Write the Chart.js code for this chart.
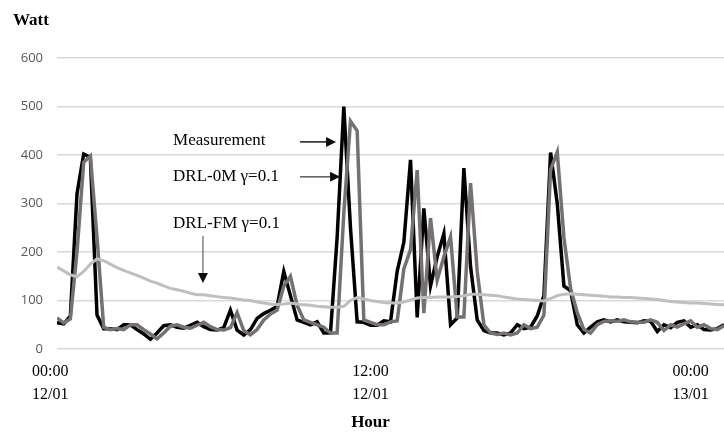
<!DOCTYPE html>
<html>
<head>
<meta charset="utf-8">
<script src="https://cdn.jsdelivr.net/npm/chart.js@4.4.1/dist/chart.umd.min.js"></script>
<style>
html,body{margin:0;padding:0;background:#ffffff;}
#wrap{width:724px;height:432px;}
</style>
</head>
<body>
<div id="wrap"><canvas id="c" width="724" height="432"></canvas></div>
<script>
// ---- data (15-minute readings, first reading at 00:15) ----
const START_HOUR = 0.25;
const STEP_HOURS = 0.25;

const measurement = [
  54, 52, 68, 320, 402, 395, 70, 42, 42, 40,
  50, 50, 40, 31, 20, 33, 48, 50, 45, 43,
  49, 55, 46, 40, 39, 44, 80, 39, 29, 40,
  63, 73, 80, 88, 160, 110, 60, 55, 50, 56,
  33, 33, 230, 500, 250, 56, 55, 49, 49, 58,
  56, 160, 220, 390, 65, 290, 130, 190, 238, 50,
  64, 373, 170, 60, 38, 33, 33, 29, 33, 50,
  42, 45, 68, 110, 405, 300, 130, 120, 50, 33,
  45, 56, 60, 56, 60, 56, 55, 54, 58, 57,
  36, 50, 44, 55, 58, 45, 50, 40, 39, 42, 50
];

const drl0m = [
  64, 54, 62, 200, 385, 398, 230, 45, 40, 42,
  40, 50, 50, 40, 31, 21, 33, 47, 50, 45,
  43, 49, 55, 46, 40, 39, 44, 75, 38, 29,
  40, 60, 72, 80, 130, 150, 90, 60, 55, 50,
  45, 33, 33, 280, 470, 450, 60, 55, 50, 50,
  56, 58, 165, 205, 369, 74, 270, 142, 190, 231,
  66, 66, 342, 160, 50, 33, 30, 33, 29, 33,
  50, 42, 45, 70, 370, 406, 230, 125, 75, 40,
  33, 50, 57, 58, 57, 60, 56, 55, 55, 60,
  55, 38, 50, 45, 52, 58, 45, 50, 42, 40, 48
];

const drlfm = [
  169, 161, 153, 149, 160, 175, 186, 182, 175, 168,
  162, 157, 152, 146, 140, 136, 130, 125, 122, 119,
  115, 112, 112, 110, 108, 106, 105, 103, 101, 100,
  97, 95, 93, 92, 93, 95, 93, 91, 90, 88,
  87, 86, 86, 88, 100, 106, 103, 100, 98, 96,
  95, 95, 97, 101, 105, 106, 106, 107, 107, 107,
  108, 110, 113, 113, 112, 111, 110, 107, 105, 103,
  102, 101, 100, 99, 104, 110, 113, 114, 113, 112,
  111, 110, 109, 107, 107, 106, 106, 105, 104, 103,
  102, 100, 98, 97, 96, 95, 95, 94, 93, 92, 91
];

const seriesNames = ['Measurement', 'DRL-0M \u03B3=0.1', 'DRL-FM \u03B3=0.1'];
const tickHours = [0, 12, 24];
const tickLabels = [['00:00', '12/01'], ['12:00', '12/01'], ['00:00', '13/01']];
const yTickValues = [0, 100, 200, 300, 400, 500, 600];
const xTitle = 'Hour';
const yTitle = 'Watt';

// annotation labels and arrows, in data units (hour, watt)
const notes = [
  {text: seriesNames[0], hour: 4.6, watt: 429},
  {text: seriesNames[1], hour: 4.6, watt: 355},
  {text: seriesNames[2], hour: 4.6, watt: 258}
];
const arrows = [
  {from: [9.36, 427], to: [10.71, 427], shaft: '#1a1a1a'},
  {from: [9.36, 355], to: [10.86, 355], shaft: '#595959'},
  {from: [5.72, 233], to: [5.72, 136], shaft: '#7f7f7f'}
];

const times = measurement.map((_, i) => START_HOUR + i * STEP_HOURS);
const toPoints = arr => arr.map((v, i) => ({x: times[i], y: v}));

const SERIF = '"Liberation Serif", "Times New Roman", serif';

const overlayPlugin = {
  id: 'overlay',
  afterDatasetsDraw(chart) {
    const {ctx, chartArea, scales} = chart;
    const x = scales.x, y = scales.y;
    ctx.save();
    ctx.fillStyle = '#000000';
    ctx.textBaseline = 'middle';
    // annotation text
    ctx.font = '17px ' + SERIF;
    ctx.textAlign = 'left';
    notes.forEach(n => ctx.fillText(n.text, x.getPixelForValue(n.hour), y.getPixelForValue(n.watt)));
    // arrows
    arrows.forEach(a => {
      const x1 = x.getPixelForValue(a.from[0]), y1 = y.getPixelForValue(a.from[1]);
      const x2 = x.getPixelForValue(a.to[0]), y2 = y.getPixelForValue(a.to[1]);
      const ang = Math.atan2(y2 - y1, x2 - x1);
      const L = 10, W = 5;
      const bx = x2 - L * Math.cos(ang), by = y2 - L * Math.sin(ang);
      ctx.strokeStyle = a.shaft;
      ctx.lineWidth = 1.5;
      ctx.beginPath(); ctx.moveTo(x1, y1); ctx.lineTo(bx, by); ctx.stroke();
      ctx.fillStyle = '#0d0d0d';
      ctx.beginPath();
      ctx.moveTo(x2, y2);
      ctx.lineTo(bx + W * Math.sin(ang), by - W * Math.cos(ang));
      ctx.lineTo(bx - W * Math.sin(ang), by + W * Math.cos(ang));
      ctx.closePath(); ctx.fill();
    });
    // axis titles
    ctx.fillStyle = '#000000';
    ctx.font = 'bold 17px ' + SERIF;
    ctx.textAlign = 'left';
    ctx.fillText(yTitle, chartArea.left - 44, chartArea.top - 37);
    ctx.textAlign = 'center';
    ctx.fillText(xTitle, x.getPixelForValue(tickHours[1]), chart.height - 9);
    ctx.restore();
  }
};

new Chart(document.getElementById('c'), {
  type: 'line',
  data: {
    datasets: [
      {label: seriesNames[2], data: toPoints(drlfm), borderColor: '#bfbfbf', borderWidth: 3},
      {label: seriesNames[1], data: toPoints(drl0m), borderColor: '#767171', borderWidth: 3.5},
      {label: seriesNames[0], data: toPoints(measurement), borderColor: '#000000', borderWidth: 3.5}
    ]
  },
  options: {
    responsive: false,
    devicePixelRatio: 1,
    animation: false,
    parsing: true,
    layout: {padding: {top: 58, left: 0, right: 0, bottom: 0}},
    elements: {
      point: {radius: 0, hoverRadius: 0},
      line: {tension: 0, fill: false, borderJoinStyle: 'miter', borderCapStyle: 'butt'}
    },
    plugins: {legend: {display: false}, tooltip: {enabled: false}, title: {display: false}},
    scales: {
      x: {
        type: 'linear',
        min: times[0],
        max: times[times.length - 1],
        grid: {display: false, drawTicks: false},
        border: {display: false},
        afterBuildTicks: scale => { scale.ticks = tickHours.map(v => ({value: v})); },
        afterFit: scale => { scale.height = 83; },
        ticks: {
          autoSkip: false,
          maxRotation: 0,
          padding: 12,
          color: '#000000',
          font: {family: SERIF, size: 16, lineHeight: 1.4},
          callback: (value) => tickLabels[tickHours.indexOf(value)]
        }
      },
      y: {
        min: 0,
        max: 600,
        afterBuildTicks: scale => { scale.ticks = yTickValues.map(v => ({value: v})); },
        afterFit: scale => { scale.width = 57; },
        grid: {color: '#d9d9d9', lineWidth: 1.5, drawTicks: false},
        border: {display: false},
        ticks: {
          padding: 14,
          color: '#595959',
          font: {family: '"Open Sans", "Liberation Sans", sans-serif', size: 13}
        }
      }
    }
  },
  plugins: [overlayPlugin]
});
</script>
</body>
</html>
